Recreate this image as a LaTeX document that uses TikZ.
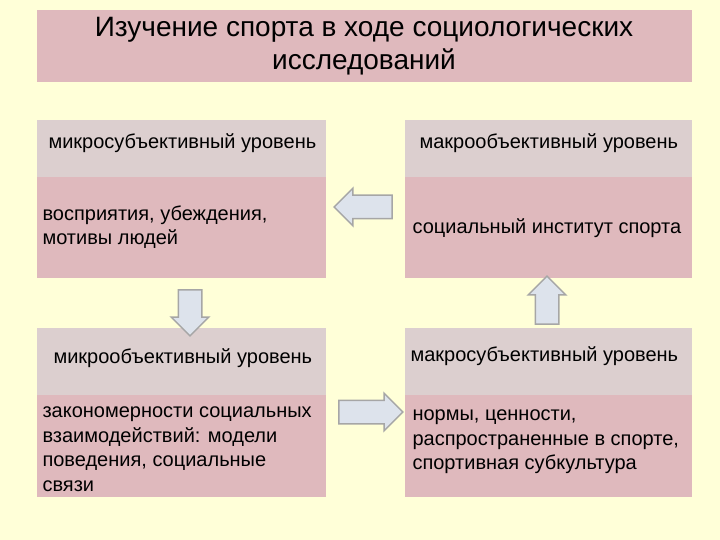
\documentclass[tikz,border=0pt]{standalone}
\usepackage{fontspec}
\setmainfont{Liberation Sans}
\usetikzlibrary{shapes.arrows}
\definecolor{bg}{HTML}{FFFFD8}
\definecolor{hdr}{HTML}{DCCFCF}
\definecolor{body}{HTML}{DFB9BD}
\definecolor{arr}{HTML}{DDE3EC}
\begin{document}
\begin{tikzpicture}[x=1pt,y=-1pt,
  txt/.style={anchor=west,align=left,font=\fontsize{20}{24.5}\selectfont,text=black},
  bigarrow/.style={single arrow,draw=gray!70,line width=1.5pt,fill=arr,minimum height=#1,single arrow head extend=7pt,inner sep=11pt}]
\fill[bg] (0,0) rectangle (720,540);
\fill[body] (37,10) rectangle (692,82);
\node[font=\fontsize{28}{33}\selectfont,align=center] (title) at (364,46) {Изучение спорта в ходе социологических\\исследований};
\fill[hdr] (37,120) rectangle (326,177); \fill[body] (37,177) rectangle (326,278);
\fill[hdr] (405,120) rectangle (692,177); \fill[body] (405,177) rectangle (692,278);
\fill[hdr] (37,328) rectangle (326,395); \fill[body] (37,395) rectangle (326,497);
\fill[hdr] (405,328) rectangle (692,395); \fill[body] (405,395) rectangle (692,497);
\node[txt] (h1) at (45,143) {микросубъективный уровень};
\node[txt] (b1) at (39,227) {восприятия, убеждения,\\мотивы людей};
\node[txt] (h2) at (416,143) {макрообъективный уровень};
\node[txt] (b2) at (409,228) {социальный институт спорта};
\node[txt] (h3) at (50,358) {микрообъективный уровень};
\node[txt] (b3) at (39,449) {закономерности социальных\\взаимодействий: модели\\поведения, социальные\\связи};
\node[txt] (h4) at (407,356) {макросубъективный уровень};
\node[txt] (b4) at (409,442) {нормы, ценности,\\распространенные в спорте,\\спортивная субкультура};
\node[bigarrow=58pt,shape border rotate=180] (a1) at (369,207) {};
\node[bigarrow=46pt,shape border rotate=270] (a2) at (190,307) {};
\node[bigarrow=48pt,shape border rotate=90] (a3) at (547,306) {};
\node[bigarrow=64pt] (a4) at (365,412) {};
\end{tikzpicture}
\end{document}
